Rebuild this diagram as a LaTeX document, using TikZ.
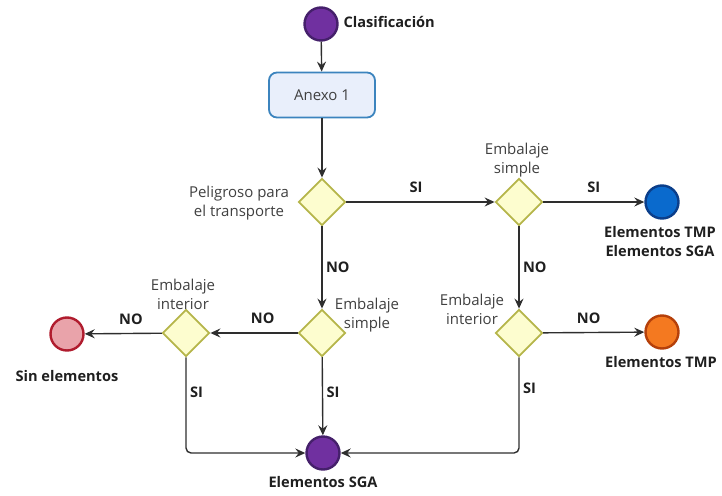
\documentclass[tikz,border=0pt]{standalone}
\usepackage{fontspec}
\setmainfont{Open Sans}
\usetikzlibrary{shapes.geometric,arrows.meta}
\definecolor{linea}{HTML}{2E2E2E}
\definecolor{textogris}{HTML}{404040}
\definecolor{rombofill}{HTML}{FDFDCF}
\definecolor{rombodraw}{HTML}{B5B54A}
\definecolor{cajafill}{HTML}{E9EFFB}
\definecolor{cajadraw}{HTML}{3C84BE}
\definecolor{moradofill}{HTML}{7030A0}
\definecolor{moradodraw}{HTML}{45206B}
\definecolor{azulfill}{HTML}{0A6ACD}
\definecolor{azuldraw}{HTML}{0B3E8A}
\definecolor{naranjafill}{HTML}{F47920}
\definecolor{naranjadraw}{HTML}{B5400A}
\definecolor{rojofill}{HTML}{E9A3AA}
\definecolor{rojodraw}{HTML}{B01C2E}
\begin{document}
\begin{tikzpicture}[x=1pt, y=-1pt,
    every node/.style={font=\fontsize{15}{19}\selectfont},
    rombo/.style={diamond, aspect=1, draw=rombodraw, fill=rombofill, line width=1.8pt,
      minimum width=47pt, minimum height=47pt, inner sep=0pt},
    estado/.style={circle, line width=2.4pt, minimum size=33pt, inner sep=0pt},
    nota/.style={text=textogris, align=center},
    fin/.style={font=\fontsize{14.6}{19}\selectfont\bfseries, text=black!88, align=center},
    resp/.style={font=\fontsize{14.6}{19}\selectfont\bfseries, text=black!88},
    flujo/.style={draw=linea, line width=1.4pt, -{Stealth[length=10pt, width=9pt, inset=3.5pt]}}]

    \useasboundingbox (0,0) rectangle (722,495);

    % --- Inicio y caja ---
    \node[estado, draw=moradodraw, fill=moradofill] (ini) at (321,24) {};
    \node[fin, anchor=west] (clas) at (340,22) {Clasificación};
    \node[draw=cajadraw, fill=cajafill, line width=1.8pt, rounded corners=8pt,
      minimum width=106pt, minimum height=45pt, text=textogris] (anexo) at (322,95) {Anexo 1};

    % --- Decisiones ---
    \node[rombo] (peli) at (322,202) {};
    \node[rombo] (simpleder) at (519,202) {};
    \node[rombo] (simplecen) at (322,333) {};
    \node[rombo] (interder) at (519,333) {};
    \node[rombo] (interizq) at (186,333) {};

    % textos de las decisiones
    \node[nota] (tpeli) at (239,203) {Peligroso para\\el transporte};
    \node[nota] (tsimpleder) at (517,160) {Embalaje\\simple};
    \node[nota] (tsimplecen) at (367,315) {Embalaje\\simple};
    \node[nota] (tinterder) at (472,309) {Embalaje\\interior};
    \node[nota] (tinterizq) at (183,294) {Embalaje\\interior};

    % --- Estados finales ---
    \node[estado, draw=azuldraw, fill=azulfill] (tmpsga) at (662,202) {};
    \node[estado, draw=naranjadraw, fill=naranjafill] (tmp) at (662,332) {};
    \node[estado, draw=rojodraw, fill=rojofill] (sin) at (67,334) {};
    \node[estado, draw=moradodraw, fill=moradofill] (sga) at (323,453) {};

    \node[fin] (ttmpsga) at (660,242) {Elementos TMP\\Elementos SGA};
    \node[fin] (ttmp) at (661,362) {Elementos TMP};
    \node[fin] (tsin) at (67,376) {Sin elementos};
    \node[fin] (tsga) at (323,482) {Elementos SGA};

    % --- Flechas ---
    \draw[flujo] (ini) -- (anexo);
    \draw[flujo] (anexo) -- (peli);
    \draw[flujo] (peli) -- node[resp, above=5pt, pos=0.47] {SI} (simpleder);
    \draw[flujo] (simpleder) -- node[resp, above=5pt] {SI} (tmpsga);
    \draw[flujo] (simpleder) -- node[resp, right] {NO} (interder);
    \draw[flujo] (interder) -- node[resp, above=5pt, pos=0.45] {NO} (tmp);
    \draw[flujo, rounded corners=5pt] (interder) |- node[resp, right, pos=0.16] {SI} (sga);
    \draw[flujo] (peli) -- node[resp, right] {NO} (simplecen);
    \draw[flujo] (simplecen) -- node[resp, above=5pt, pos=0.4] {NO} (interizq);
    \draw[flujo] (simplecen) -- node[resp, right, pos=0.45] {SI} (sga);
    \draw[flujo] (interizq) -- node[resp, above=5pt, pos=0.4] {NO} (sin);
    \draw[flujo, rounded corners=5pt] (interizq) |- node[resp, right, pos=0.18] {SI} (sga);

\end{tikzpicture}
\end{document}
